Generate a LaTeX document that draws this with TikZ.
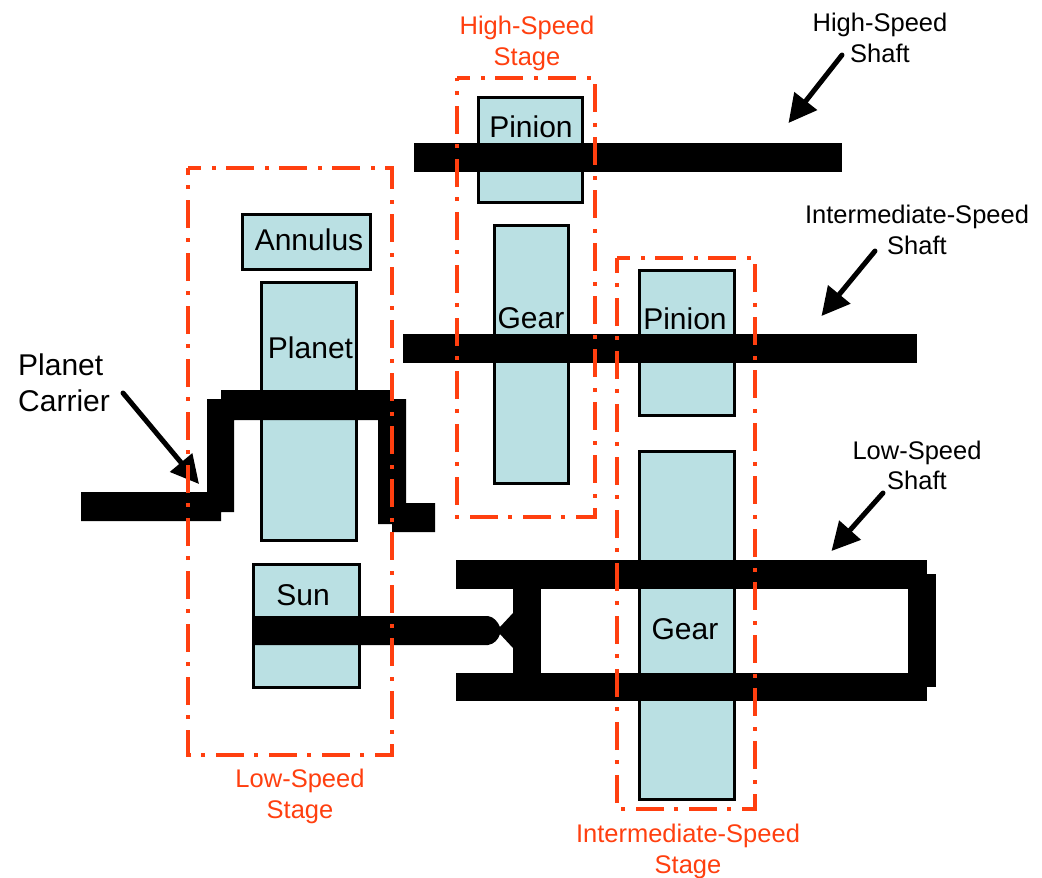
\documentclass[tikz,border=0pt]{standalone}
\usepackage{fontspec}
\setmainfont{Liberation Sans}
\usetikzlibrary{arrows.meta}
\definecolor{gearfill}{HTML}{BAE0E3}
\definecolor{stagered}{HTML}{FF3F0F}
\tikzset{
  gearbox/.style={draw=black,line width=3pt,fill=gearfill,inner sep=0pt,outer sep=0pt},
  partlabel/.style={inner sep=0pt,font=\fontsize{30}{36}\selectfont,text=black},
  shaftlabel/.style={inner sep=0pt,align=center,font=\fontsize{25.5}{30.5}\selectfont,text=black},
  stagelabel/.style={inner sep=0pt,align=center,font=\fontsize{25.5}{31}\selectfont,text=stagered},
  shaft/.style={fill=black,draw=none},
  stageframe/.style={draw=stagered,line width=3.3pt,dash pattern=on 28pt off 11pt on 4pt off 10pt,dash phase=15pt},
  pointer/.style={draw=black,line width=5pt,line cap=round,-{Triangle[length=28pt,width=28pt]}},
}
\newcommand{\gearnode}[5]{% name, x1, y1, x2, y2
  \node[gearbox,anchor=north west,minimum width=#4pt-#2pt-2pt,minimum height=#5pt-#3pt-2pt] (#1) at (#2+1,#3+1) {};}
\newcommand{\framepath}[4]{\draw[stageframe] (#1,#2) -- (#3,#2) -- (#3,#4) -- (#1,#4) -- cycle;}
\begin{document}
\begin{tikzpicture}[x=1pt,y=-1pt]
\useasboundingbox (0,0) rectangle (1042,878);
% gears
\gearnode{annulus}{241}{213}{371}{270}
\gearnode{planet}{260}{281}{357}{541}
\gearnode{sun}{252}{563}{360}{688}
\gearnode{hspinion}{477}{96}{583}{203}
\gearnode{hsgear}{493}{224}{569}{484}
\gearnode{ispinion}{638}{269}{735}{416}
\gearnode{isgear}{638}{450}{735}{800}
% shafts
\fill[shaft] (414,143) rectangle (842,172);
\fill[shaft] (403,334) rectangle (917,363);
\fill[shaft] (456,560) rectangle (927,589);
\fill[shaft] (456,673) rectangle (927,701);
\fill[shaft] (908,574) rectangle (936,687);
\fill[shaft] (513,585) rectangle (541,677);
\fill[shaft] (252,616) -- (488,616) .. controls (494,617) and (498,622) .. (500,627)
  -- (513,613) -- (513,648) -- (500,634) .. controls (498,640) and (494,644) .. (488,645) -- (252,645) -- cycle;
% planet carrier
\fill[shaft] (81,492) -- (207,492) -- (207,399) -- (221,399) -- (221,390) -- (392,390) -- (392,399)
  -- (406,399) -- (406,503) -- (435,503) -- (435,532) -- (392,532) -- (392,524) -- (378,524)
  -- (378,420) -- (234,420) -- (234,512) -- (221,512) -- (221,521) -- (81,521) -- cycle;
% part labels
\node[partlabel] (lannulus) at (309,239.5) {Annulus};
\node[partlabel] (lplanet) at (310.5,347.5) {Planet};
\node[partlabel] (lsun) at (303,595.5) {Sun};
\node[partlabel] (lhspinion) at (531,126.5) {Pinion};
\node[partlabel] (lhsgear) at (531,318.5) {Gear};
\node[partlabel] (lispinion) at (685,318.5) {Pinion};
\node[partlabel] (lisgear) at (685,629.5) {Gear};
\node[partlabel,align=left,anchor=north west] (lcarrier) at (18,354) {Planet\\Carrier};
% shaft labels and pointers
\node[shaftlabel] (lhs) at (880,38) {High-Speed\\Shaft};
\node[shaftlabel] (lis) at (917,230) {Intermediate-Speed\\Shaft};
\node[shaftlabel] (lls) at (917,465.5) {Low-Speed\\Shaft};
\coordinate (ahs0) at (842,55);  \coordinate (ahs1) at (788.5,123);
\coordinate (ais0) at (875,251); \coordinate (ais1) at (821.5,316);
\coordinate (als0) at (883,493); \coordinate (als1) at (831.5,551);
\coordinate (apc0) at (123,393); \coordinate (apc1) at (199,484);
\draw[pointer] (ahs0) -- (ahs1);
\draw[pointer] (ais0) -- (ais1);
\draw[pointer] (als0) -- (als1);
\draw[pointer] (apc0) -- (apc1);
% stage frames
\framepath{188}{168}{392}{755}
\framepath{457}{78}{595}{517}
\framepath{617}{258}{755}{809}
\node[stagelabel] (lhss) at (527,43) {High-Speed\\Stage};
\node[stagelabel] (llss) at (300,796) {Low-Speed\\Stage};
\node[stagelabel] (liss) at (688,851) {Intermediate-Speed\\Stage};
\end{tikzpicture}
\end{document}
